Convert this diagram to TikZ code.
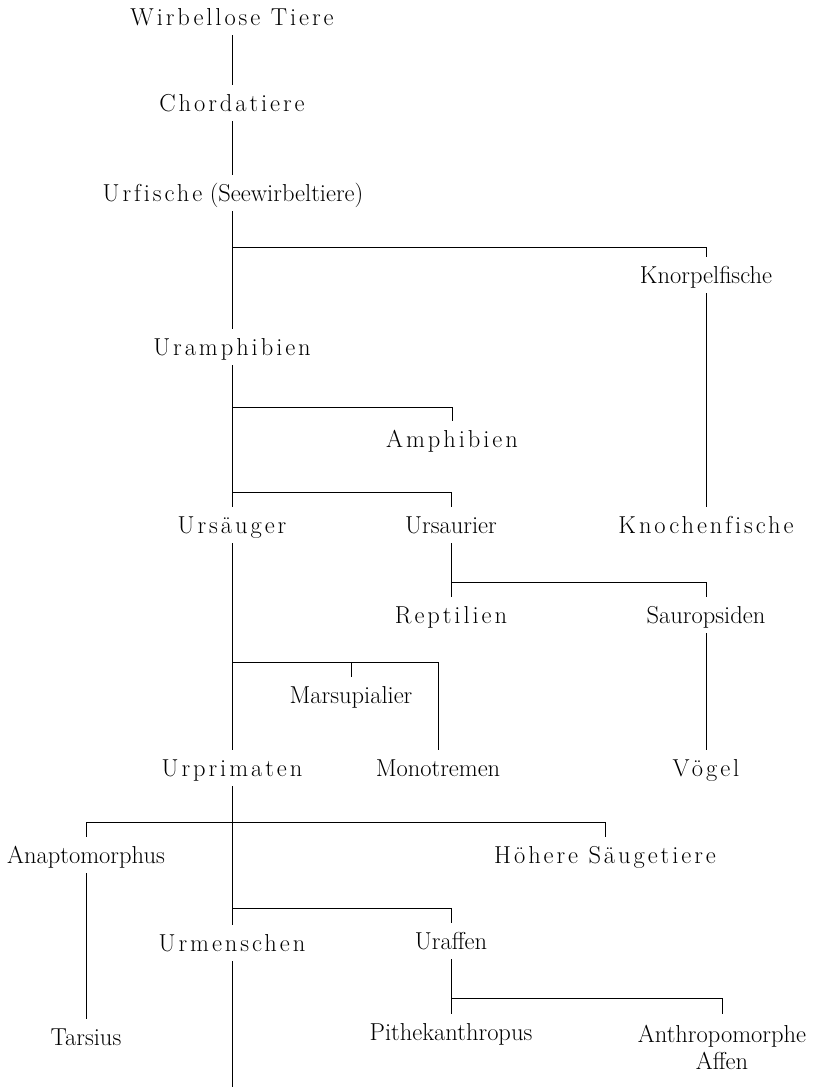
\documentclass[tikz,border=0pt]{standalone}
\usepackage{fontspec}
\setmainfont{Latin Modern Roman}
\newcommand{\sperr}{\addfontfeatures{LetterSpace=12,Ligatures=NoCommon}}
\begin{document}
\begin{tikzpicture}[x=1pt,y=-1pt,
  lab/.style={inner xsep=0pt, inner ysep=10pt, text height=16pt, text depth=0pt, font=\fontsize{24.5}{27}\selectfont},
  sp/.style={lab, font=\fontsize{24.5}{27}\selectfont\sperr},
  con/.style={line width=0.9pt, line cap=butt}]
\useasboundingbox[fill=white] (0,0) rectangle (813,1087);
% nodes
\node[sp]  (w)   at (232,17)  {Wirbellose Tiere};
\node[sp]  (c)   at (232,103) {Chordatiere};
\node[lab] (uf)  at (233,193) {{\sperr Urfische} (Seewirbeltiere)};
\node[lab] (kp)  at (706,275) {Knorpelfische};
\node[sp]  (ua)  at (232,347) {Uramphibien};
\node[sp]  (am)  at (452,439) {Amphibien};
\node[sp]  (us)  at (232,525) {Ursäuger};
\node[lab] (ur)  at (451,525) {Ursaurier};
\node[sp]  (kn)  at (706,525) {Knochenfische};
\node[sp]  (re)  at (451,615) {Reptilien};
\node[lab] (sa)  at (706,615) {Sauropsiden};
\node[lab] (ma)  at (351,695) {Marsupialier};
\node[sp]  (up)  at (232,768) {Urprimaten};
\node[lab] (mo)  at (438,768) {Monotremen};
\node[sp]  (vo)  at (706,768) {Vögel};
\node[lab] (an)  at (86,855)  {Anaptomorphus};
\node[sp]  (hs)  at (605,855) {Höhere Säugetiere};
\node[sp]  (um)  at (232,943) {Urmenschen};
\node[lab] (ua2) at (451,941) {Uraffen};
\node[lab] (ts)  at (86,1037) {Tarsius};
\node[lab] (pk)  at (451,1032) {Pithekanthropus};
\node[inner sep=0pt, anchor=north, align=center, font=\fontsize{24.5}{27}\selectfont] (ap) at (722,1025) {Anthropomorphe\\Affen};
% branch points
\coordinate (b1) at (232,247);
\coordinate (b2) at (232,407);
\coordinate (b3) at (232,492);
\coordinate (b4) at (451,582);
\coordinate (b5) at (232,662);
\coordinate (b6) at (232,822);
\coordinate (b7) at (232,908);
\coordinate (b8) at (451,998);
\coordinate (endc) at (232,1087);
% connectors
\draw[con] (w) -- (c);
\draw[con] (c) -- (c |- uf.north);
\draw[con] (ua |- uf.south) -- (ua);
\draw[con] (b1) -| (kp.north);
\draw[con] (kp) -- (kn);
\draw[con] (ua) -- (us);
\draw[con] (b2) -| (am.north);
\draw[con] (b3) -| (ur.north);
\draw[con] (ur) -- (re);
\draw[con] (b4) -| (sa.north);
\draw[con] (sa) -- (vo);
\draw[con] (us) -- (up);
\draw[con] (b5) -| (mo.north);
\draw[con] (ma.north) -- (ma.north |- b5);
\draw[con] (up) -- (um);
\draw[con] (an.north) |- (b6) -| (hs.north);
\draw[con] (an) -- (ts);
\draw[con] (b7) -| (ua2.north);
\draw[con] (ua2) -- (pk);
\draw[con, shorten >=11pt] (b8) -| (ap.north);
\draw[con] (um) -- (endc);
\end{tikzpicture}
\end{document}
